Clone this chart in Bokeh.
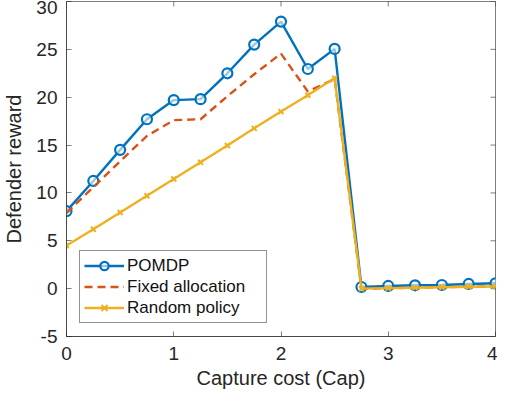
import math
from bokeh.plotting import figure
from bokeh.models import LinearAxis, Range1d, Legend, LegendItem, FixedTicker, CustomJSTickFormatter
from bokeh.embed import file_html
from bokeh.resources import INLINE

cap = [0, 0.25, 0.5, 0.75, 1.0, 1.25, 1.5, 1.75, 2.0, 2.25, 2.5, 2.75, 3.0, 3.25, 3.5, 3.75, 4.0]
pomdp = [8.1, 11.25, 14.5, 17.7, 19.7, 19.8, 22.5, 25.5, 27.9, 22.95, 25.05, 0.17, 0.28, 0.35, 0.38, 0.49, 0.56]
fixed = [7.9, 10.6, 13.3, 15.95, 17.6, 17.7, 20.1, 22.4, 24.55, 20.6, 21.9, 0.0, 0.05, 0.1, 0.15, 0.2, 0.25]
random_policy = [4.5, 6.2, 7.95, 9.7, 11.45, 13.2, 14.95, 16.75, 18.5, 20.2, 22.0, 0.0, 0.05, 0.1, 0.15, 0.2, 0.22]

x_ticks = [0, 1, 2, 3, 4]
y_ticks = [-5, 0, 5, 10, 15, 20, 25, 30]
x_min, x_max = 0, 4
y_min, y_max = -5, 30

BLUE = "#0072BD"
ORANGE = "#D95319"
YELLOW = "#EDB120"
AX = "#262626"
FONT = "Liberation Sans"

p = figure(width=497, height=398, output_backend="svg", toolbar_location=None,
           x_range=Range1d(x_min, x_max), y_range=Range1d(y_min, y_max),
           min_border_left=58, min_border_top=1, min_border_right=2, min_border_bottom=62,
           x_axis_location=None, y_axis_location=None)
p.grid.visible = False
p.outline_line_color = AX
p.outline_line_alpha = 0.6
p.background_fill_color = "white"
p.border_fill_color = "white"

plain = CustomJSTickFormatter(code="return tick < 0 ? '-' + Math.abs(tick) : '' + tick;")

def style(ax):
    ax.formatter = plain
    ax.major_tick_in = 5
    ax.major_tick_out = 0
    ax.minor_tick_line_color = None
    ax.axis_line_color = AX
    ax.axis_line_alpha = 0.6
    ax.major_tick_line_color = AX
    ax.major_tick_line_alpha = 0.6
    ax.major_label_text_color = AX
    ax.major_label_text_font = FONT
    ax.major_label_text_font_size = "19px"
    ax.axis_label_text_font = FONT
    ax.axis_label_text_font_size = "20px"
    ax.axis_label_text_font_style = "normal"
    ax.axis_label_text_color = AX

xb = LinearAxis(ticker=FixedTicker(ticks=x_ticks), axis_label="Capture cost (Cap)")
style(xb)
xb.major_label_standoff = 10
xb.axis_label_standoff = 4
p.add_layout(xb, "below")
yl = LinearAxis(ticker=FixedTicker(ticks=y_ticks), axis_label="Defender reward")
style(yl)
yl.major_label_standoff = 9
yl.axis_label_standoff = 8
p.add_layout(yl, "left")

# mirrored tick marks on the top and right edges of the box
p.scatter([x_max] * len(y_ticks), y_ticks, marker="dash", size=10,
          line_color=AX, line_alpha=0.6, line_width=1)
p.scatter(x_ticks, [y_max] * len(x_ticks), marker="dash", size=10, angle=math.pi / 2,
          line_color=AX, line_alpha=0.6, line_width=1)

l1 = p.line(cap, pomdp, line_color=BLUE, line_width=2.4)
m1 = p.scatter(cap, pomdp, marker="circle", size=10, line_color=BLUE, line_width=2.2, fill_color="white", fill_alpha=0.6)
l2 = p.line(cap, fixed, line_color=ORANGE, line_width=2.4, line_dash="8 5")
l3 = p.line(cap, random_policy, line_color=YELLOW, line_width=2.4)
m3 = p.scatter(cap, random_policy, marker="x", size=7, line_color=YELLOW, line_width=2)

legend = Legend(items=[
    LegendItem(label="POMDP", renderers=[l1, m1]),
    LegendItem(label="Fixed allocation", renderers=[l2]),
    LegendItem(label="Random policy", renderers=[l3, m3]),
], location=(13, 13))
legend.label_text_font = FONT
legend.label_text_font_size = "17px"
legend.label_text_color = "#111111"
legend.label_standoff = 3
legend.label_width = 135
legend.glyph_width = 40
legend.glyph_height = 21
legend.label_height = 21
legend.spacing = 0
legend.padding = 4
legend.margin = 0
legend.border_line_color = AX
legend.border_line_alpha = 0.5
legend.background_fill_color = "white"
legend.background_fill_alpha = 1
p.add_layout(legend, "center")

open("out.html", "w").write(file_html(p, INLINE))
